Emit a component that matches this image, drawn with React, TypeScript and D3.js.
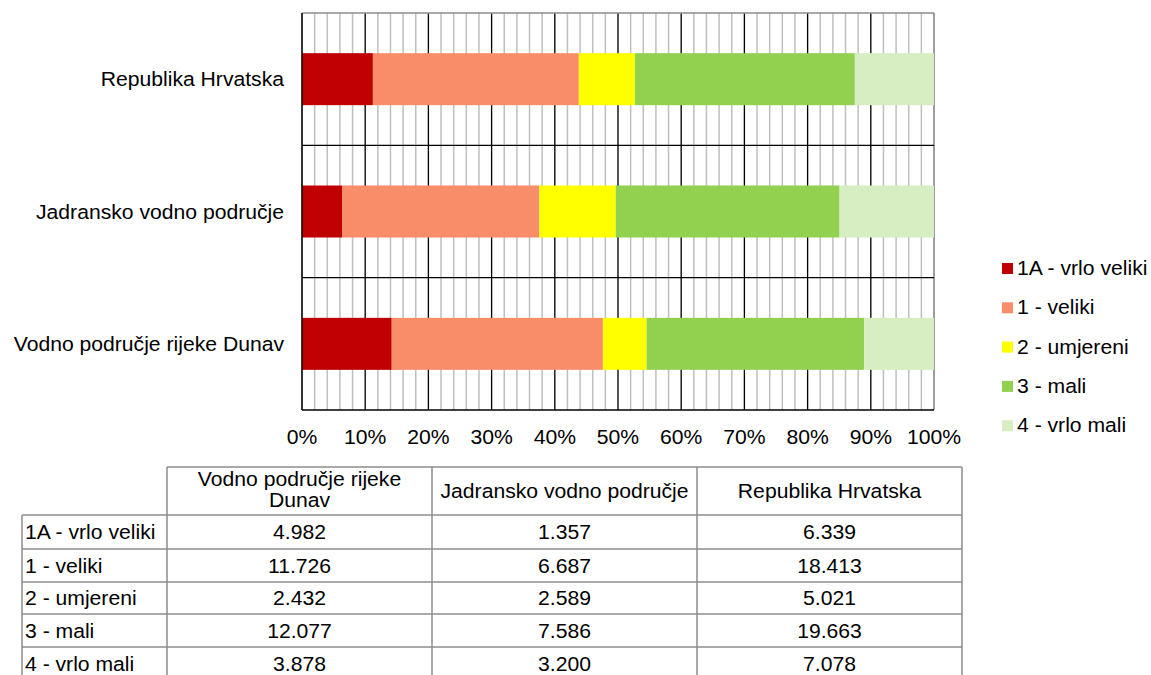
import React from "react";
import * as d3 from "d3";

const categories = ["Vodno područje rijeke Dunav", "Jadransko vodno područje", "Republika Hrvatska"];
const seriesNames = ["1A - vrlo veliki", "1 - veliki", "2 - umjereni", "3 - mali", "4 - vrlo mali"];
const seriesColors = ["#C00000", "#F98C69", "#FFFF00", "#92D050", "#D7EEC3"];
const valDunav = [4982, 11726, 2432, 12077, 3878];
const valJadran = [1357, 6687, 2589, 7586, 3200];
const valRH = [6339, 18413, 5021, 19663, 7078];
const tickValues = [0, 0.1, 0.2, 0.3, 0.4, 0.5, 0.6, 0.7, 0.8, 0.9, 1.0];

const W = 1151, H = 675;
const FONT = "'Liberation Sans', Arial, sans-serif";
const FS = 19.5;
const SX = 1.085;

function T(props: { x: number; y: number; anchor?: string; children: React.ReactNode }) {
  return (
    <text
      transform={`translate(${props.x},${props.y}) scale(${SX},1)`}
      fontSize={FS}
      textAnchor={props.anchor || "start"}
      fill="#000"
    >
      {props.children}
    </text>
  );
}

export default function App() {
  const values = [valDunav, valJadran, valRH];
  const x = d3.scaleLinear().domain([0, 1]).range([302, 934]);
  const order = [2, 1, 0];
  const y = d3.scaleBand<number>().domain(order).range([13, 410]).paddingInner(0).paddingOuter(0);
  const bandH = y.bandwidth();
  const barH = 52;
  const loc = d3.formatLocale({ decimal: ",", thousands: ".", grouping: [3], currency: ["", ""] });
  const fmt = loc.format(",d");
  const pct = d3.format(".0%");

  const minorTicks = d3.range(0, 1.0001, 0.02);

  const bars: React.ReactNode[] = [];
  order.forEach((ci) => {
    const vals = values[ci];
    const total = d3.sum(vals);
    const stack = d3.cumsum(vals);
    vals.forEach((v, si) => {
      const x0 = x((stack[si] - v) / total);
      const x1 = x(stack[si] / total);
      const yc = (y(ci) as number) + bandH / 2;
      bars.push(
        <rect key={`b${ci}-${si}`} x={x0} y={yc - barH / 2} width={x1 - x0} height={barH} fill={seriesColors[si]} />
      );
    });
  });

  const colX = [22, 167, 432, 697, 962];
  const rowY = [467, 515, 549, 582, 614, 647, 680];
  const tableCols = [0, 1, 2];
  const tableStroke = "#8C8C8C";

  return (
    <svg width={W} height={H} style={{ position: "absolute", left: 0, top: 0, background: "#fff" }} fontFamily={FONT}>
      <rect x={0} y={0} width={W} height={H} fill="#fff" />
      {minorTicks.map((t, i) => (
        <line key={`m${i}`} x1={x(t)} x2={x(t)} y1={13} y2={410} stroke="#BFBFBF" strokeWidth={1.5} />
      ))}
      {tickValues.slice(1, -1).map((t, i) => (
        <line key={`M${i}`} x1={x(t)} x2={x(t)} y1={13} y2={410} stroke="#000" strokeWidth={1.2} />
      ))}
      <line x1={302} x2={934} y1={13} y2={13} stroke="#8C8C8C" strokeWidth={1.5} />
      <line x1={934} x2={934} y1={13} y2={410} stroke="#8C8C8C" strokeWidth={1.5} />
      {order.slice(1).map((ci) => (
        <line key={`h${ci}`} x1={302} x2={934} y1={y(ci) as number} y2={y(ci) as number} stroke="#000" strokeWidth={1.2} />
      ))}
      {bars}
      <line x1={302} x2={934} y1={410} y2={410} stroke="#000" strokeWidth={1.5} />
      <line x1={302} x2={302} y1={13} y2={410} stroke="#000" strokeWidth={1.5} />
      {tickValues.map((t, i) => (
        <T key={`t${i}`} x={x(t)} y={444} anchor="middle">{pct(t)}</T>
      ))}
      {order.map((ci) => (
        <T key={`c${ci}`} x={284} y={(y(ci) as number) + bandH / 2 + 7} anchor="end">{categories[ci]}</T>
      ))}
      {seriesNames.map((s, i) => (
        <g key={`l${i}`}>
          <rect x={1002} y={268 + i * 39.3 - 5} width={11} height={11} fill={seriesColors[i]} />
          <T x={1017} y={268 + i * 39.3 + 7}>{s}</T>
        </g>
      ))}
      <g>
        <line x1={colX[1]} x2={colX[4]} y1={rowY[0]} y2={rowY[0]} stroke={tableStroke} strokeWidth={1.5} />
        {rowY.slice(1).map((ry, i) => (
          <line key={`tr${i}`} x1={colX[0]} x2={colX[4]} y1={ry} y2={ry} stroke={tableStroke} strokeWidth={1.5} />
        ))}
        <line x1={colX[0]} x2={colX[0]} y1={rowY[1]} y2={rowY[6]} stroke={tableStroke} strokeWidth={1.5} />
        {colX.slice(1).map((cx, i) => (
          <line key={`tc${i}`} x1={cx} x2={cx} y1={rowY[0]} y2={rowY[6]} stroke={tableStroke} strokeWidth={1.5} />
        ))}
        <T x={(colX[1] + colX[2]) / 2} y={486} anchor="middle">Vodno područje rijeke</T>
        <T x={(colX[1] + colX[2]) / 2} y={507} anchor="middle">Dunav</T>
        <T x={(colX[2] + colX[3]) / 2} y={498} anchor="middle">{categories[1]}</T>
        <T x={(colX[3] + colX[4]) / 2} y={498} anchor="middle">{categories[2]}</T>
        {seriesNames.map((s, si) => {
          const cy = (rowY[si + 1] + rowY[si + 2]) / 2 + 7;
          return (
            <g key={`row${si}`}>
              <T x={colX[0] + 3} y={cy}>{s}</T>
              {tableCols.map((ci) => (
                <T key={`v${ci}`} x={(colX[ci + 1] + colX[ci + 2]) / 2} y={cy} anchor="middle">
                  {fmt(values[ci][si])}
                </T>
              ))}
            </g>
          );
        })}
      </g>
    </svg>
  );
}
